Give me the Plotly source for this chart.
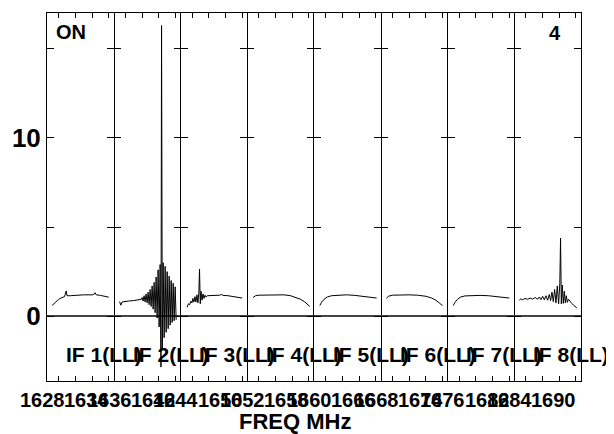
import plotly.graph_objects as go
from plotly.subplots import make_subplots

IF1_FREQ = [1627.2, 1627.6, 1628.0, 1628.4, 1628.7, 1628.9, 1629.0, 1629.4, 1630.0, 1631.0,
            1632.0, 1632.2, 1632.35, 1632.5, 1633.0, 1633.4, 1634.0]
IF1_TA = [0.60, 0.80, 0.95, 1.05, 1.10, 1.42, 1.15, 1.15, 1.18, 1.20,
          1.20, 1.22, 1.32, 1.20, 1.17, 1.14, 1.07]

IF2_FREQ = [1635.3, 1635.45, 1635.6, 1636.0, 1636.5, 1637.0, 1637.5, 1637.9,
            1638.00, 1638.12, 1638.24, 1638.36, 1638.48, 1638.60, 1638.72, 1638.84,
            1638.96, 1639.08, 1639.20, 1639.32, 1639.44, 1639.56, 1639.68, 1639.80,
            1639.92, 1640.04, 1640.16, 1640.26, 1640.33, 1640.42, 1640.52, 1640.64,
            1640.76, 1640.88, 1641.00, 1641.12, 1641.24, 1641.36, 1641.48, 1641.60,
            1641.72, 1641.84, 1641.96, 1642.08]
IF2_TA = [0.82, 0.62, 0.80, 0.84, 0.86, 0.88, 0.92, 0.95,
          1.05, 0.85, 1.15, 0.80, 1.25, 0.75, 1.35, 0.65,
          1.50, 0.55, 1.70, 0.40, 1.90, 0.20, 2.20, -0.10,
          2.60, -0.60, 2.90, -2.85, 16.3, -1.80, 3.00, -1.20,
          2.80, -0.90, 2.50, -0.70, 2.25, -0.50, 2.00, -0.35,
          1.85, -0.25, 1.65, -0.20]

IF3_FREQ = [1643.40, 1643.55, 1643.70, 1643.85, 1643.97, 1644.09, 1644.21, 1644.33,
            1644.45, 1644.57, 1644.69, 1644.80, 1644.88, 1644.97, 1645.06, 1645.18,
            1645.30, 1645.42, 1645.54, 1645.66, 1645.80, 1646.2, 1646.8, 1647.3,
            1647.5, 1647.7, 1648.3, 1649.0, 1649.5, 1650.0]
IF3_TA = [0.50, 0.70, 0.65, 0.85, 0.75, 1.00, 0.80, 1.10,
          0.80, 1.20, 0.75, 1.35, 2.64, 0.70, 1.40, 0.90,
          1.25, 1.00, 1.18, 1.08, 1.15, 1.15, 1.17, 1.18,
          1.22, 1.17, 1.15, 1.10, 1.07, 1.02]

IF4_FREQ = [1651.3, 1651.6, 1652.0, 1653.0, 1654.0, 1655.0, 1655.8, 1656.5,
            1657.0, 1657.5, 1657.8, 1658.1]
IF4_TA = [1.05, 1.15, 1.18, 1.20, 1.22, 1.20, 1.15, 1.05,
          0.95, 0.80, 0.68, 0.55]

IF5_FREQ = [1659.3, 1659.5, 1659.8, 1660.2, 1660.7, 1661.5, 1662.5, 1663.5,
            1664.5, 1665.5, 1666.1]
IF5_TA = [0.60, 0.78, 0.95, 1.08, 1.15, 1.18, 1.20, 1.17,
          1.12, 1.07, 1.02]

IF6_FREQ = [1667.3, 1667.5, 1668.0, 1669.0, 1670.0, 1671.0, 1672.0, 1672.7,
            1673.2, 1673.6, 1674.0]
IF6_TA = [1.00, 1.12, 1.18, 1.20, 1.20, 1.18, 1.12, 1.02,
          0.90, 0.75, 0.60]

IF7_FREQ = [1675.3, 1675.5, 1675.8, 1676.2, 1676.7, 1677.5, 1678.5, 1679.5,
            1680.5, 1681.3, 1682.0]
IF7_TA = [0.60, 0.78, 0.95, 1.08, 1.14, 1.16, 1.17, 1.15,
          1.10, 1.06, 1.02]

IF8_FREQ = [1683.2, 1683.4, 1683.6, 1683.9, 1684.2, 1684.5, 1684.8, 1685.1,
            1685.4, 1685.6, 1685.8, 1686.0, 1686.2, 1686.4, 1686.6, 1686.8,
            1686.96, 1687.12, 1687.28, 1687.44, 1687.60, 1687.76, 1687.92, 1688.06,
            1688.15, 1688.24, 1688.36, 1688.48, 1688.60, 1688.72, 1688.84, 1688.96,
            1689.1, 1689.3, 1689.5, 1689.7, 1689.9, 1690.1]
IF8_TA = [0.90, 0.98, 0.92, 1.00, 0.95, 1.02, 0.96, 1.05,
          0.95, 1.08, 0.93, 1.12, 0.92, 1.15, 0.90, 1.22,
          0.88, 1.35, 0.82, 1.50, 0.75, 1.70, 0.70, 1.85,
          4.38, 0.70, 1.75, 0.72, 1.40, 0.75, 1.15, 0.78,
          0.95, 0.80, 0.72, 0.62, 0.55, 0.47]

FREQS = [IF1_FREQ, IF2_FREQ, IF3_FREQ, IF4_FREQ, IF5_FREQ, IF6_FREQ, IF7_FREQ, IF8_FREQ]
TAS = [IF1_TA, IF2_TA, IF3_TA, IF4_TA, IF5_TA, IF6_TA, IF7_TA, IF8_TA]

IF_NAMES = ['IF 1(LL)', 'IF 2(LL)', 'IF 3(LL)', 'IF 4(LL)',
            'IF 5(LL)', 'IF 6(LL)', 'IF 7(LL)', 'IF 8(LL)']
BAND_LABELS = [('1628', '1634'), ('1636', '1642'), ('1644', '1650'), ('1652', '1658'),
               ('1660', '1666'), ('1668', '1674'), ('1676', '1682'), ('1684', '1690')]
Y_TICKS = [0, 5, 10, 15]
Y_TICKTEXT = ['0', '', '10', '']
SCAN_MODE = 'ON'
SCAN_NO = '4'
X_TITLE = 'FREQ MHz'

FONT = 'Liberation Sans, Arial, sans-serif'
n = len(FREQS)
# page body has an 8px margin, so the figure is drawn 8px smaller and shifted
W, H = 606, 426
L, R, T, B = 37, 33, 4, 53
pw = (W - L - R) / n
ph = H - T - B

fig = make_subplots(rows=1, cols=n, shared_yaxes=True, horizontal_spacing=0)

for i in range(n):
    fig.add_trace(go.Scatter(x=FREQS[i], y=TAS[i], mode='lines',
                             line=dict(color='black', width=1), showlegend=False),
                  row=1, col=i + 1)
    lo = 1626.6 + 8 * i
    fig.update_xaxes(range=[lo, lo + 8], tickvals=[lo + 1.4 + 2 * j for j in range(4)],
                     showticklabels=False, row=1, col=i + 1)

fig.update_xaxes(ticks='inside', ticklen=5, tickcolor='black', mirror='ticks',
                 showline=True, linecolor='black', linewidth=1,
                 showgrid=False, zeroline=False)
fig.update_yaxes(range=[-3.63, 17.0], tickvals=Y_TICKS, ticktext=Y_TICKTEXT,
                 ticks='inside', ticklen=7, tickcolor='black', mirror='ticks',
                 showline=True, linecolor='black', linewidth=1, showgrid=False,
                 zeroline=True, zerolinecolor='#444', zerolinewidth=2,
                 tickfont=dict(family=FONT, size=26, color='black', weight='bold'))
# neighbouring panels would draw each divider twice; hide every other pair of side lines
for col in (2, 4, 6, 8):
    fig.update_yaxes(linecolor='rgba(0,0,0,0)', row=1, col=col)
# right border of the last panel
fig.add_shape(type='line', xref='paper', yref='paper',
              x0=1 + 0.5 / (W - L - R), x1=1 + 0.5 / (W - L - R), y0=0, y1=1,
              line=dict(color='black', width=1))

annotations = []
bold = dict(family=FONT, size=20, color='black', weight='bold')


def px_x(p):
    # p in reference-picture pixels
    return (p - 45) / (W - L - R)


def px_y(p):
    return (381 - p) / ph


for i in range(n):
    xr = 'x domain' if i == 0 else f'x{i + 1} domain'
    # channel label inside the bottom of each panel
    annotations.append(dict(text=IF_NAMES[i], xref=xr, yref='paper', x=17 / pw, y=px_y(354),
                            xanchor='left', yanchor='middle', showarrow=False,
                            font=dict(bold, size=21)))
    # first / last frequency labels under each panel
    for lab, off in zip(BAND_LABELS[i], (-4.75, 39.75)):
        annotations.append(dict(text=lab, xref=xr, yref='paper', x=off / pw, y=px_y(400),
                                xanchor='center', yanchor='middle', showarrow=False, font=bold))

annotations.append(dict(text=SCAN_MODE, xref='paper', yref='paper', x=px_x(52), y=px_y(31),
                        xanchor='left', yanchor='middle', showarrow=False, font=bold))
annotations.append(dict(text=SCAN_NO, xref='paper', yref='paper', x=px_x(563), y=px_y(32),
                        xanchor='right', yanchor='middle', showarrow=False, font=bold))
annotations.append(dict(text=X_TITLE, xref='paper', yref='paper', x=px_x(294), y=px_y(422),
                        xanchor='center', yanchor='middle', showarrow=False,
                        font=dict(bold, size=22)))

fig.update_layout(width=W, height=H, margin=dict(l=L, r=R, t=T, b=B),
                  paper_bgcolor='white', plot_bgcolor='white',
                  font=dict(family=FONT, color='black'),
                  annotations=annotations)

fig.write_html('out.html')
